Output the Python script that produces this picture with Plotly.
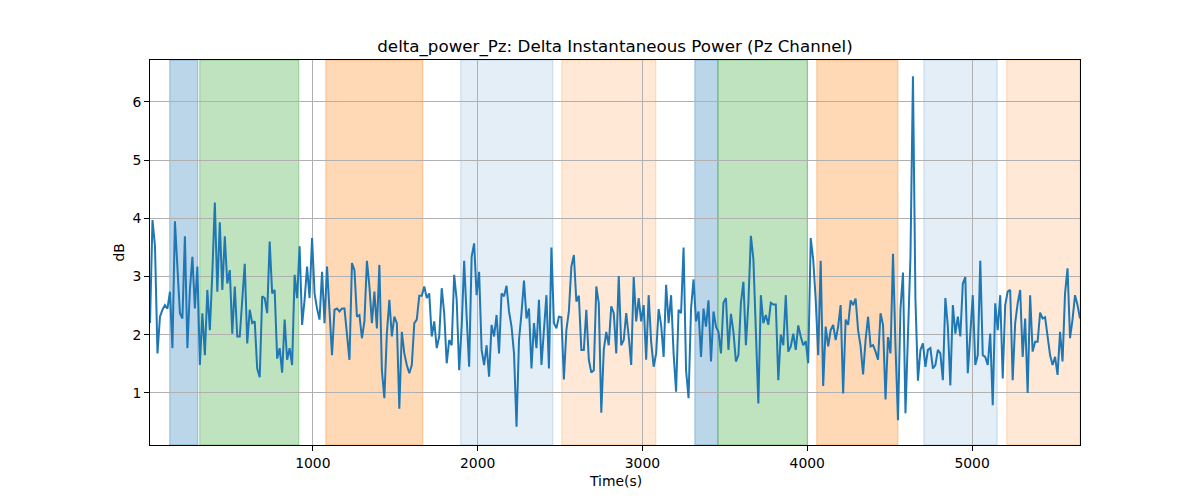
import numpy as np
import plotly.graph_objects as go

# ---- data ----
power_db = [
    # ~12 s .. ~730 s
    2.2, 3.97, 3.52, 1.68, 2.31, 2.43, 2.51, 2.45, 2.74, 1.77, 3.95, 3.06, 2.37, 2.28, 3.69, 1.77,
    2.77, 3.34, 2.45, 3.17, 1.48, 2.37, 1.65, 2.77, 2.08, 3.06, 4.27, 2.74, 3.93, 2.77, 3.69, 2.88,
    3.11, 2.02, 2.83, 1.97, 1.97, 2.6, 3.22, 1.85, 2.43, 2.20, 2.23, 1.42, 1.27, 2.66, 2.63, 2.37,
    # 
    3.60, 2.71, 2.77, 1.59, 1.77, 1.35, 2.26, 1.57, 1.77, 1.48, 3.03, 2.63, 3.52, 2.17, 2.60, 3.17,
    2.63, 3.66, 2.71, 2.45, 2.26, 3.08, 2.20, 3.17, 2.37, 1.65, 2.43, 2.45, 2.40, 2.45, 2.45, 2.02,
    1.57, 3.23, 3.11, 2.31, 2.34, 1.94, 2.23, 3.27, 2.83, 2.20, 2.74, 2.11, 3.20, 1.39, 0.91, 2.02, 2.60,
    #
    1.97, 2.31, 2.20, 0.73, 2.05, 1.68, 1.48, 1.34, 1.48, 2.20, 2.26, 2.67, 2.67, 2.83, 2.63, 2.71,
    1.97, 2.23, 1.77, 1.97, 2.80, 2.37, 1.51, 1.91, 1.82, 3.03, 2.60, 1.39, 2.14, 3.27, 2.31, 1.45,
    3.34, 3.57, 2.68, 3.08, 1.74, 1.48, 1.82, 1.28, 2.17, 1.97, 2.34, 1.68, 2.71, 2.66, 2.84, 2.40,
    #
    2.14, 1.68, 0.42, 1.91, 2.37, 2.93, 2.28, 2.45, 1.42, 2.20, 1.77, 2.60, 1.48, 2.05, 2.68, 1.42,
    3.50, 2.20, 2.11, 2.31, 2.30, 1.23, 2.08, 2.40, 3.17, 3.37, 2.57, 2.67, 1.74, 1.74, 2.43, 1.57,
    1.35, 1.39, 2.83, 2.54, 0.66, 1.74, 2.05, 1.82, 2.49, 2.37, 1.68, 3.01, 1.82, 1.91, 2.37, 1.97, 1.48,
    #
    2.99, 2.23, 2.63, 2.23, 2.51, 1.57, 2.68, 1.88, 1.45, 1.68, 2.44, 2.17, 1.62, 2.86, 2.20, 2.68,
    1.68, 1.02, 2.43, 2.37, 3.50, 1.39, 0.91, 2.45, 2.95, 2.23, 2.40, 1.62, 2.45, 2.14, 2.59, 1.54,
    2.40, 2.14, 2.05, 1.68, 2.55, 2.63, 1.74, 2.36, 2.05, 1.54, 1.65, 2.55, 2.91, 1.82, 2.54, 3.70,
    #
    3.30, 2.2, 0.82, 2.68, 2.20, 2.34, 2.17, 2.55, 2.52, 2.52, 1.22, 2.0, 1.82, 2.68, 1.71, 1.80,
    2.02, 1.74, 2.16, 1.97, 1.82, 1.89, 1.51, 3.66, 3.29, 2.60, 1.65, 3.27, 1.12, 2.14, 1.80, 2.08,
    2.17, 1.91, 2.14, 2.51, 0.99, 2.26, 2.17, 2.59, 2.51, 2.62, 2.08, 1.80, 1.32, 1.91, 2.31, 1.80,
    #
    1.82, 1.71, 1.57, 2.37, 2.17, 0.89, 1.96, 1.68, 3.39, 1.80, 0.53, 2.45, 3.07, 0.65, 2.08, 3.34,
    6.44, 2.60, 1.21, 1.74, 1.85, 1.45, 1.74, 1.77, 1.42, 1.48, 1.74, 1.68, 1.22, 2.63, 2.14, 1.13,
    2.51, 2.02, 2.31, 1.97, 2.88, 2.99, 1.34, 2.02, 2.68, 1.48, 1.65, 3.27, 1.65, 1.62, 1.48, 2.02,
    #
    0.79, 2.54, 2.08, 2.68, 1.25, 2.51, 2.74, 2.77, 1.22, 2.20, 2.54, 2.77, 1.62, 2.28, 1.0, 2.68,
    1.71, 1.88, 1.88, 2.38, 2.28, 2.30, 2.0, 1.65, 1.48, 1.62, 1.31, 2.05, 1.54, 2.71, 3.14, 1.94,
    2.26, 2.68, 2.51, 2.28,
]
t_start = 12.0
t_end = 5655.0
time_s = np.linspace(t_start, t_end, len(power_db))

# shaded stage intervals (start, end, colour, alpha)
span_start = [132, 314, 1079, 1898, 2511, 3318, 3458, 4058, 4708, 5211]
span_end = [302, 915, 1667, 2456, 3081, 3458, 4000, 4550, 5152, 5655]
span_color = ["31,119,180", "44,160,44", "255,127,14", "31,119,180", "255,127,14",
              "31,119,180", "44,160,44", "255,127,14", "31,119,180", "255,127,14"]
span_alpha = [0.3, 0.3, 0.3, 0.12, 0.17, 0.3, 0.3, 0.3, 0.12, 0.17]

x_ticks = [1000, 2000, 3000, 4000, 5000]
y_ticks = [1, 2, 3, 4, 5, 6]

FONT = "DejaVu Sans"

fig = go.Figure()
fig.add_trace(go.Scatter(x=time_s, y=power_db, mode="lines",
                         line=dict(color="#1f77b4", width=2), showlegend=False))

for s, e, c, a in zip(span_start, span_end, span_color, span_alpha):
    fig.add_vrect(x0=s, x1=e, layer="below",
                  fillcolor=f"rgba({c},{a})",
                  line=dict(color=f"rgba({c},{min(1, a + 0.1)})", width=1))

fig.update_layout(
    width=1200, height=500,
    margin=dict(l=150, r=120, t=60, b=55),
    paper_bgcolor="white", plot_bgcolor="white",
    font=dict(family=FONT, size=14, color="black"),
    title=dict(text="delta_power_Pz: Delta Instantaneous Power (Pz Channel)",
               x=(150 + 465) / 1200, xanchor="center", y=1 - 46 / 500, yanchor="middle",
               yref="container", font=dict(size=16.7, family=FONT)),
    annotations=[
        dict(text="Time(s)", x=0.5, xref="paper", y=(445 - 481) / 385, yref="paper",
             showarrow=False, xanchor="center", yanchor="middle", font=dict(size=13.9)),
        dict(text="dB", x=(118 - 150) / 930, xref="paper", y=0.5, yref="paper",
             showarrow=False, xanchor="center", yanchor="middle", textangle=-90,
             font=dict(size=13.9)),
    ],
)
fig.update_xaxes(range=[t_start, t_end], tickvals=x_ticks, ticks="outside", ticklen=5,
                 tickcolor="black", showline=True, linecolor="black", linewidth=1, mirror=True,
                 showgrid=True, gridcolor="#b0b0b0", gridwidth=1, zeroline=False,
                 tickfont=dict(size=13.9))
fig.update_yaxes(range=[0.106, 6.72], tickvals=y_ticks, ticks="outside", ticklen=5,
                 tickcolor="black", showline=True, linecolor="black", linewidth=1, mirror=True,
                 showgrid=True, gridcolor="#b0b0b0", gridwidth=1, zeroline=False,
                 tickfont=dict(size=13.9))

fig.write_html("out.html")
